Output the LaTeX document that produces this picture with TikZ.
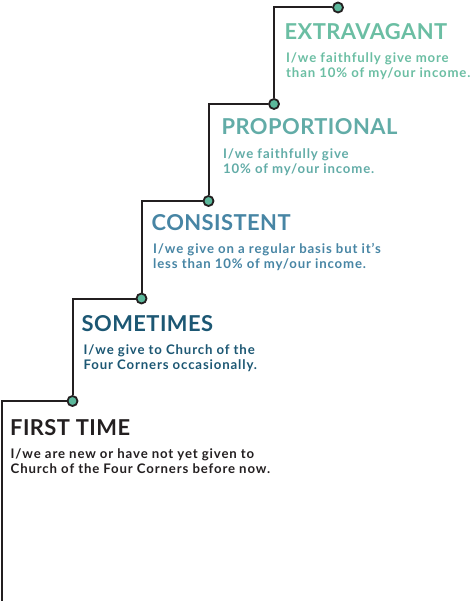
\documentclass[tikz,border=0pt]{standalone}
\usepackage{fontspec}
\setmainfont{Lato}
\newfontfamily\bodyfont[LetterSpace=6.5]{Lato}
\newfontfamily\titlefont[LetterSpace=2]{Lato}
\definecolor{cext}{HTML}{6BBEA3}
\definecolor{cpro}{HTML}{62ACA7}
\definecolor{ccon}{HTML}{4785A4}
\definecolor{csom}{HTML}{1C5773}
\definecolor{cfir}{HTML}{231F20}
\definecolor{cdot}{HTML}{5CB89B}
\definecolor{cline}{HTML}{231F20}
\begin{document}
\begin{tikzpicture}[x=1pt,y=-1pt,
  title/.style={anchor=base west,inner sep=0pt,font=\titlefont\fontsize{21.9}{24}\selectfont\bfseries},
  body/.style={anchor=base west,inner sep=0pt,font=\bodyfont\fontsize{13.2}{15}\selectfont\bfseries},
  dot/.style={circle,draw=cline,line width=1.8pt,fill=cdot,minimum size=10pt,inner sep=0pt},
  stair/.style={draw=cline,line width=2pt}]
\useasboundingbox (0,0) rectangle (472,601);
% dots
\node[dot] (c1) at (72.5,401) {};
\node[dot] (c2) at (141.5,298.5) {};
\node[dot] (c3) at (208.5,201) {};
\node[dot] (c4) at (274,104) {};
\node[dot] (c5) at (338,7.5) {};
\coordinate (s0) at (2,601);
% stairs
\draw[stair] (s0) |- (c1);
\draw[stair] (c1) |- (c2);
\draw[stair] (c2) |- (c3);
\draw[stair] (c3) |- (c4);
\draw[stair] (c4) |- (c5);
% texts
\node[title,text=cext] (t5) at (284.5,39.5) {EXTRAVAGANT};
\node[body,text=cext] (b5a) at (286,63) {I/we faithfully give more};
\node[body,text=cext] (b5b) at (286,78) {than 10\% of my/our income.};
\node[title,text=cpro] (t4) at (221.5,135) {PROPORTIONAL};
\node[body,text=cpro] (b4a) at (223,158.3) {I/we faithfully give};
\node[body,text=cpro] (b4b) at (223,173.3) {10\% of my/our income.};
\node[title,text=ccon] (t3) at (151.5,230) {CONSISTENT};
\node[body,text=ccon] (b3a) at (153,253.3) {I/we give on a regular basis but it’s};
\node[body,text=ccon] (b3b) at (153,268.3) {less than 10\% of my/our income.};
\node[title,text=csom] (t2) at (81.5,331) {SOMETIMES};
\node[body,text=csom] (b2a) at (83.5,354.3) {I/we give to Church of the};
\node[body,text=csom] (b2b) at (83.5,369.3) {Four Corners occasionally.};
\node[title,text=cfir] (t1) at (10,435) {FIRST TIME};
\node[body,text=cfir] (b1a) at (10.5,458.3) {I/we are new or have not yet given to};
\node[body,text=cfir] (b1b) at (10.5,473.3) {Church of the Four Corners before now.};
\end{tikzpicture}
\end{document}
